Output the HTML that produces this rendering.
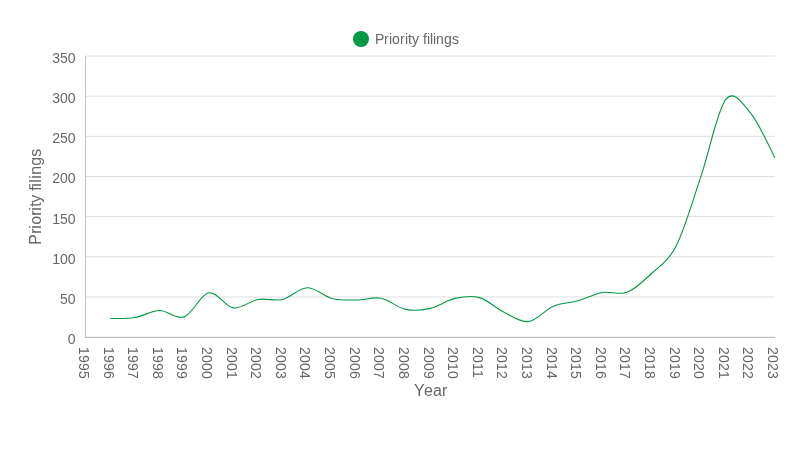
<!DOCTYPE html>
<html><head><meta charset="utf-8"><title>Priority filings</title>
<style>html,body{margin:0;padding:0;background:#fff}svg{display:block}text{font-family:"Liberation Sans",Arial,sans-serif;fill:#666666}</style></head>
<body>
<svg width="800" height="450" viewBox="0 0 800 450">
<rect width="800" height="450" fill="#ffffff"/>
<rect x="86" y="336.60" width="689" height="1" fill="#dedede"/>
<rect x="86" y="296.45" width="689" height="1" fill="#dedede"/>
<rect x="86" y="256.29" width="689" height="1" fill="#dedede"/>
<rect x="86" y="216.14" width="689" height="1" fill="#dedede"/>
<rect x="86" y="175.98" width="689" height="1" fill="#dedede"/>
<rect x="86" y="135.83" width="689" height="1" fill="#dedede"/>
<rect x="86" y="95.67" width="689" height="1" fill="#dedede"/>
<rect x="86" y="55.52" width="689" height="1" fill="#dedede"/>
<rect x="85" y="337" width="690" height="1" fill="#c0c0c0"/>
<rect x="85" y="56" width="1" height="282" fill="#c0c0c0"/>
<path d="M110.36,318.49C110.36,318.49,126.77,318.86,134.97,317.52C143.18,316.18,151.38,310.56,159.58,310.46C167.79,310.35,175.99,319.83,184.19,316.88C192.40,313.94,200.60,294.29,208.81,292.79C217.01,291.29,225.21,306.77,233.42,307.89C241.62,309.00,249.82,300.86,258.03,299.45C266.23,298.05,274.43,301.39,282.64,299.45C290.84,297.51,299.05,287.98,307.25,287.81C315.45,287.63,323.66,296.37,331.86,298.41C340.06,300.44,348.27,300.04,356.47,300.01C364.67,299.99,372.88,296.68,381.08,298.25C389.29,299.81,397.49,307.72,405.69,309.41C413.90,311.10,422.10,310.20,430.30,308.37C438.51,306.53,446.71,300.20,454.92,298.41C463.12,296.61,471.32,295.29,479.53,297.61C487.73,299.92,495.93,308.31,504.14,312.30C512.34,316.29,520.54,322.56,528.75,321.54C536.95,320.52,545.16,309.65,553.36,306.20C561.56,302.75,569.77,303.11,577.97,300.82C586.17,298.53,594.38,293.90,602.58,292.46C610.78,291.03,618.99,295.42,627.19,292.22C635.40,289.02,643.60,281.07,651.80,273.27C660.01,265.47,668.21,261.58,676.41,245.40C684.62,229.22,692.82,200.46,701.02,176.17C709.23,151.87,717.43,110.22,725.64,99.63C733.84,89.04,742.04,102.94,750.25,112.64C758.45,122.35,774.86,157.86,774.86,157.86" fill="none" stroke="#009944" stroke-width="1.1"/>
<text x="75.5" y="344" font-size="14" text-anchor="end">0</text>
<text x="75.5" y="304" font-size="14" text-anchor="end">50</text>
<text x="75.5" y="264" font-size="14" text-anchor="end">100</text>
<text x="75.5" y="224" font-size="14" text-anchor="end">150</text>
<text x="75.5" y="183" font-size="14" text-anchor="end">200</text>
<text x="75.5" y="143" font-size="14" text-anchor="end">250</text>
<text x="75.5" y="103" font-size="14" text-anchor="end">300</text>
<text x="75.5" y="63" font-size="14" text-anchor="end">350</text>
<text transform="translate(78.95,347) rotate(90)" font-size="14" letter-spacing="0.214">1995</text>
<text transform="translate(103.56,347) rotate(90)" font-size="14" letter-spacing="0.214">1996</text>
<text transform="translate(128.17,347) rotate(90)" font-size="14" letter-spacing="0.214">1997</text>
<text transform="translate(152.78,347) rotate(90)" font-size="14" letter-spacing="0.214">1998</text>
<text transform="translate(177.39,347) rotate(90)" font-size="14" letter-spacing="0.214">1999</text>
<text transform="translate(202.00,347) rotate(90)" font-size="14" letter-spacing="0.214">2000</text>
<text transform="translate(226.62,347) rotate(90)" font-size="14" letter-spacing="0.214">2001</text>
<text transform="translate(251.23,347) rotate(90)" font-size="14" letter-spacing="0.214">2002</text>
<text transform="translate(275.84,347) rotate(90)" font-size="14" letter-spacing="0.214">2003</text>
<text transform="translate(300.45,347) rotate(90)" font-size="14" letter-spacing="0.214">2004</text>
<text transform="translate(325.06,347) rotate(90)" font-size="14" letter-spacing="0.214">2005</text>
<text transform="translate(349.67,347) rotate(90)" font-size="14" letter-spacing="0.214">2006</text>
<text transform="translate(374.28,347) rotate(90)" font-size="14" letter-spacing="0.214">2007</text>
<text transform="translate(398.89,347) rotate(90)" font-size="14" letter-spacing="0.214">2008</text>
<text transform="translate(423.50,347) rotate(90)" font-size="14" letter-spacing="0.214">2009</text>
<text transform="translate(448.12,347) rotate(90)" font-size="14" letter-spacing="0.214">2010</text>
<text transform="translate(472.73,347) rotate(90)" font-size="14" letter-spacing="0.214">2011</text>
<text transform="translate(497.34,347) rotate(90)" font-size="14" letter-spacing="0.214">2012</text>
<text transform="translate(521.95,347) rotate(90)" font-size="14" letter-spacing="0.214">2013</text>
<text transform="translate(546.56,347) rotate(90)" font-size="14" letter-spacing="0.214">2014</text>
<text transform="translate(571.17,347) rotate(90)" font-size="14" letter-spacing="0.214">2015</text>
<text transform="translate(595.78,347) rotate(90)" font-size="14" letter-spacing="0.214">2016</text>
<text transform="translate(620.39,347) rotate(90)" font-size="14" letter-spacing="0.214">2017</text>
<text transform="translate(645.00,347) rotate(90)" font-size="14" letter-spacing="0.214">2018</text>
<text transform="translate(669.61,347) rotate(90)" font-size="14" letter-spacing="0.214">2019</text>
<text transform="translate(694.23,347) rotate(90)" font-size="14" letter-spacing="0.214">2020</text>
<text transform="translate(718.84,347) rotate(90)" font-size="14" letter-spacing="0.214">2021</text>
<text transform="translate(743.45,347) rotate(90)" font-size="14" letter-spacing="0.214">2022</text>
<text transform="translate(768.06,347) rotate(90)" font-size="14" letter-spacing="0.214">2023</text>
<text transform="translate(40.6,196.8) rotate(-90)" font-size="16" x="-48 -37 -32 -28 -19 -14 -10 -6 2 6 10 14 18 22 31 40" y="0">Priority filings</text>
<text x="413.9 423.9 432.9 441.9" y="395.7" font-size="16">Year</text>
<circle cx="361" cy="39" r="8" fill="#009944"/>
<text x="375 384 389 392 400 405 408 412 419 423 427 430 433 436 444 452" y="44" font-size="14">Priority filings</text>
</svg>
</body></html>
